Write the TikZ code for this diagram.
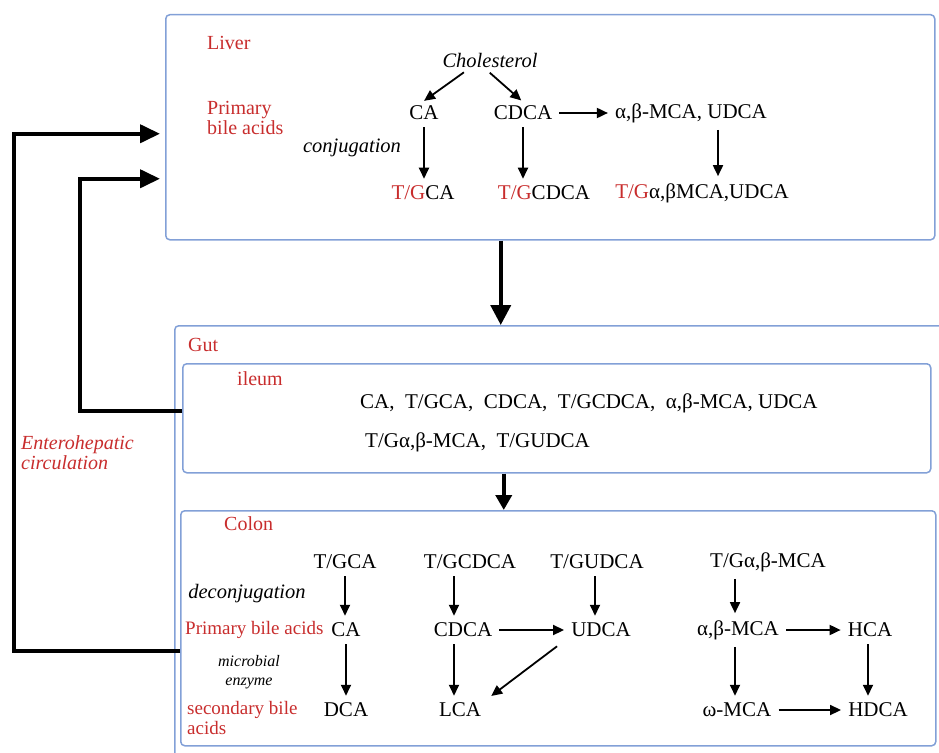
\documentclass[tikz,border=0pt]{standalone}
\usepackage{fontspec}
\setmainfont{Liberation Serif}
\usetikzlibrary{arrows.meta}
\definecolor{lred}{RGB}{200,45,45}
\definecolor{bblue}{RGB}{130,160,215}
\begin{document}
\begin{tikzpicture}[x=1pt,y=-1pt,
  every node/.style={font=\fontsize{21}{21}\selectfont, inner sep=2pt},
  box/.style={draw=bblue, line width=1.5pt, rounded corners=4pt, inner sep=0pt},
  lbl/.style={text=lred, font=\fontsize{20}{20}\selectfont},
  it/.style={font=\fontsize{20.5}{20}\selectfont\itshape},
  sm/.style={font=\fontsize{19}{20}\selectfont},
  arr/.style={-{Triangle[length=11pt,width=10pt]}, line width=1.8pt, shorten <=5pt, shorten >=5pt},
  bigarr/.style={-{Triangle[length=20pt,width=20pt]}, line width=4pt},
  medarr/.style={-{Triangle[length=15pt,width=16pt]}, line width=4pt},
  loopline/.style={-{Triangle[length=20pt,width=18pt]}, line width=4pt, shorten >=5pt}
]
\useasboundingbox (0,0) rectangle (939,752);
\clip (0,0) rectangle (939,752);

% boxes
\node[box, anchor=north west, minimum width=769pt, minimum height=225pt] (liver) at (165,14) {};
\node[box, anchor=north west, minimum width=800pt, minimum height=460pt] (gut) at (174,325) {};
\node[box, anchor=north west, minimum width=748pt, minimum height=109pt] (ileum) at (182,363) {};
\node[box, anchor=north west, minimum width=755pt, minimum height=235pt] (colon) at (180,510) {};

% liver content
\node[lbl, anchor=west] (tliver) at (205,43) {Liver};
\node[lbl, anchor=west, align=left] (tprim) at (205,118) {Primary\\bile acids};
\node[it] (chol) at (490,60) {Cholesterol};
\node (ca) at (424,113) {CA};
\node (cdca) at (523,113) {CDCA};
\node (abm) at (691,113) {α,β-MCA, UDCA};
\node[it] (conj) at (352,148) {conjugation};
\node (tgca) at (423,193) {\textcolor{lred}{T/G}CA};
\node (tgcdca) at (544,193) {\textcolor{lred}{T/G}CDCA};
\node (tgab) at (702,193) {\textcolor{lred}{T/G}α,βMCA,UDCA};

\draw[arr] ([xshift=-22pt]chol.south) -- ([xshift=-4pt]ca.north);
\draw[arr] ([xshift=-4pt]chol.south) -- ([xshift=2pt]cdca.north);
\draw[arr] (cdca) -- (abm);
\draw[arr] (ca) -- (ca |- tgca.north);
\draw[arr] (cdca) -- (cdca |- tgcdca.north);
\draw[arr] ([xshift=27pt]abm.south) -- ([xshift=27pt]abm.south |- tgab.north);

% gut / ileum
\node[lbl, anchor=west] (tgut) at (186,345) {Gut};
\node[lbl, anchor=west] (tileum) at (235,379) {ileum};
\node[anchor=west] (il1) at (358,403) {CA,\ \ T/GCA,\ \ CDCA,\ \ T/GCDCA,\ \ α,β-MCA, UDCA};
\node[anchor=west] (il2) at (363,442) {T/Gα,β-MCA,\ \ T/GUDCA};
\node[lbl, anchor=west, align=left, font=\fontsize{20}{20}\selectfont\itshape] (ent) at (19,453) {Enterohepatic\\circulation};

% colon content
\node[lbl, anchor=west] (tcolon) at (222,524) {Colon};
\node (r1a) at (345,562) {T/GCA};
\node (r1b) at (470,562) {T/GCDCA};
\node (r1c) at (597,562) {T/GUDCA};
\node (r1d) at (768,562) {T/Gα,β-MCA};
\node[it] (deconj) at (247,594) {deconjugation};
\node[lbl, sm, anchor=west] (tprim2) at (183,630) {Primary bile acids};
\node (r2a) at (346,630) {CA};
\node (r2b) at (463,630) {CDCA};
\node (r2c) at (601,630) {UDCA};
\node (r2d) at (738,630) {α,β-MCA};
\node (r2e) at (870,630) {HCA};
\node[align=center, font=\fontsize{16}{19}\selectfont\itshape] (micro) at (249,672) {microbial\\enzyme};
\node (r3a) at (346,710) {DCA};
\node (r3b) at (460,710) {LCA};
\node (r3d) at (737,710) {ω-MCA};
\node (r3e) at (878,710) {HDCA};
\node[lbl, sm, anchor=west, align=left] (tsec) at (185,718) {secondary bile\\acids};

\draw[arr] (r1a) -- (r1a |- r2a.north);
\draw[arr] ([xshift=-9pt]r2b.north |- r1b.south) -- ([xshift=-9pt]r2b.north);
\draw[arr] ([xshift=-6pt]r2c.north |- r1c.south) -- ([xshift=-6pt]r2c.north);
\draw[arr] ([xshift=-3pt]r2d.north |- r1d.south) -- ([xshift=-3pt]r2d.north);
\draw[arr] (r2b) -- (r2c);
\draw[arr] (r2d) -- (r2e);
\draw[arr] (r2a) -- (r2a |- r3a.north);
\draw[arr] ([xshift=-9pt]r2b.south) -- ([xshift=-9pt]r2b.south |- r3b.north);
\draw[arr] ([xshift=-8pt,yshift=-4pt]r2c.south west) -- ([xshift=4pt,yshift=11pt]r3b.east);
\draw[arr] ([xshift=-3pt]r2d.south) -- ([xshift=-3pt]r2d.south |- r3d.north);
\draw[arr] ([xshift=-2pt]r2e.south) -- ([xshift=-2pt]r2e.south |- r3e.north);
\draw[arr] (r3d) -- (r3e);

% big arrows
\draw[bigarr] ([xshift=-49.5pt]liver.south) -- ([xshift=-49.5pt]liver.south |- gut.north);
\draw[medarr] ([xshift=-53pt]ileum.south) -- ([xshift=-53pt]ileum.south |- colon.north);

% enterohepatic loops
\coordinate (ox) at (14,0);
\coordinate (ix) at (80,0);
\coordinate (l1) at ([yshift=-6.5pt]liver.west);
\coordinate (l2) at ([yshift=-51.5pt]liver.west);
\coordinate (c1) at ([yshift=-22.5pt]colon.west);
\coordinate (i1) at ([yshift=7.5pt]ileum.west);
\draw[loopline] (c1) -| (ox |- l1) -- (l1);
\draw[loopline] (i1) -| (ix |- l2) -- (l2);
\end{tikzpicture}
\end{document}
